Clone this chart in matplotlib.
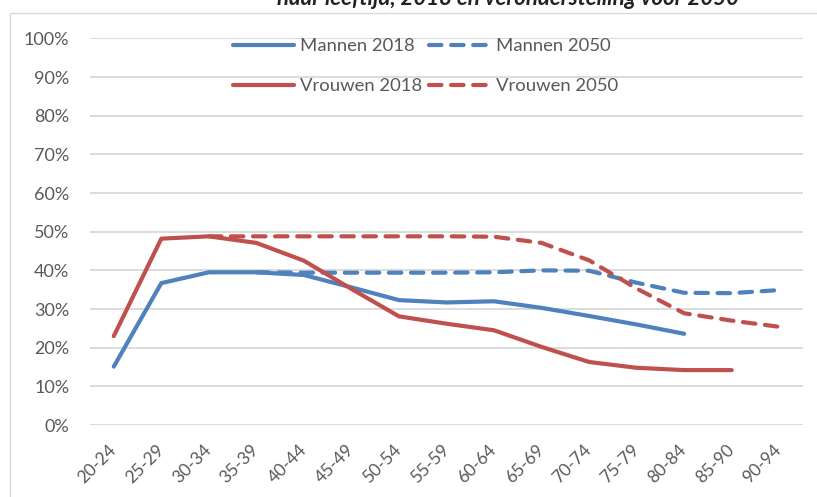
import matplotlib.pyplot as plt
import numpy as np

# age groups and participation shares (%)
leeftijd = ['20-24', '25-29', '30-34', '35-39', '40-44', '45-49', '50-54', '55-59',
            '60-64', '65-69', '70-74', '75-79', '80-84', '85-90', '90-94']
mannen_2018 = [15.1, 36.7, 39.5, 39.5, 38.8, 35.6, 32.3, 31.7, 32.0, 30.3, 28.2, 26.0, 23.6, np.nan, np.nan]
mannen_2050 = [np.nan, np.nan, np.nan, 39.5, 39.4, 39.4, 39.4, 39.4, 39.5, 40.0, 39.9, 36.8, 34.2, 34.1, 34.9]
vrouwen_2018 = [23.0, 48.2, 48.8, 47.1, 42.5, 35.2, 28.1, 26.2, 24.5, 20.2, 16.3, 14.8, 14.2, 14.2, np.nan]
vrouwen_2050 = [np.nan, np.nan, 48.8, 48.8, 48.8, 48.8, 48.8, 48.8, 48.7, 47.1, 42.6, 35.3, 28.9, 27.0, 25.4]

blauw = '#4F81BD'
rood = '#C0504D'
grijs = '#595959'

plt.rcParams['font.family'] = ['Lato', 'DejaVu Sans']

fig = plt.figure(figsize=(8.17, 4.97), dpi=100, facecolor='white')
ax = fig.add_axes([90 / 817, 72 / 497, 713 / 817, 386.6 / 497])

# chart border (cut off at right and bottom like the screenshot)
fig.patches.append(plt.Rectangle((10 / 817, -0.1), 1.2, (497 - 13) / 497 + 0.1,
                                 transform=fig.transFigure, fill=False,
                                 edgecolor='#D9D9D9', linewidth=1.0))

# title, mostly outside the crop
fig.text(508 / 817, 1 - 5 / 497, 'naar leeftijd, 2018 en veronderstelling voor 2050',
         ha='center', va='baseline', fontsize=16, fontstyle='italic',
         fontweight='bold', color='#222222')

x = np.arange(len(leeftijd))
lw = 3.0
streep = (3.0, 2.3)
ax.plot(x, mannen_2018, color=blauw, lw=lw, solid_capstyle='round',
        solid_joinstyle='round', label='Mannen 2018')
ax.plot(x, mannen_2050, color=blauw, lw=lw, dashes=streep,
        dash_capstyle='round', dash_joinstyle='round', label='Mannen 2050')
ax.plot(x, vrouwen_2018, color=rood, lw=lw, solid_capstyle='round',
        solid_joinstyle='round', label='Vrouwen 2018')
ax.plot(x, vrouwen_2050, color=rood, lw=lw, dashes=streep,
        dash_capstyle='round', dash_joinstyle='round', label='Vrouwen 2050')

ax.set_xlim(-0.5, len(leeftijd) - 0.5)
ax.set_ylim(0, 100)
ax.set_yticks(range(0, 101, 10))
ax.set_yticklabels([f'{v}%' for v in range(0, 101, 10)])
ax.set_xticks(x)
ax.set_xticklabels(leeftijd, rotation=45, ha='right', va='center',
                   rotation_mode='anchor')

ax.grid(axis='y', color='#D9D9D9', linewidth=1.3)
ax.set_axisbelow(True)
for s in ax.spines.values():
    s.set_visible(False)
ax.tick_params(axis='both', length=0, colors=grijs)
ax.tick_params(axis='y', pad=15, labelsize=13)
ax.tick_params(axis='x', pad=16, labelsize=12.5)

h, l = ax.get_legend_handles_labels()
order = [0, 2, 1, 3]
leg = ax.legend([h[i] for i in order], [l[i] for i in order], ncol=2,
                loc='upper left', bbox_to_anchor=(233 / 817, 1 - 38 / 497),
                bbox_transform=fig.transFigure, frameon=False,
                borderpad=0, borderaxespad=0, handlelength=3.3,
                handletextpad=0.3, columnspacing=0.4, labelspacing=1.3,
                fontsize=13.3)
for t in leg.get_texts():
    t.set_color(grijs)

plt.savefig('out.png', dpi=100)
